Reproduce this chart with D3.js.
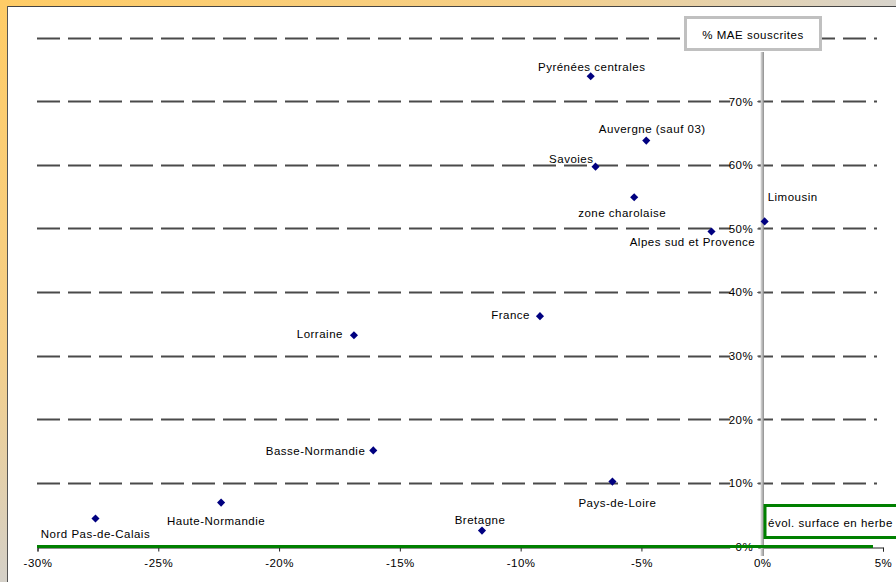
<!DOCTYPE html>
<html>
<head>
<meta charset="utf-8">
<script src="https://cdn.jsdelivr.net/npm/d3@7"></script>
<style>
  html, body { margin: 0; padding: 0; background: #fff; }
  svg { display: block; }
  text { font-family: "Liberation Sans", Arial, sans-serif; font-size: 11.5px; fill: #000; letter-spacing: 0.5px; }
</style>
</head>
<body>
<div id="chart"></div>
<script>
// data
const regions = [
  'Pyrénées centrales', 'Auvergne (sauf 03)', 'Savoies', 'zone charolaise',
  'Alpes sud et Provence', 'Limousin', 'France', 'Lorraine', 'Basse-Normandie',
  'Pays-de-Loire', 'Haute-Normandie', 'Nord Pas-de-Calais', 'Bretagne'
];
const evolHerbe = [-7.1, -4.8, -6.9, -5.3, -2.1, 0.1, -9.2, -16.9, -16.1, -6.2, -22.4, -27.6, -11.6];
const maeSouscrites = [73.9, 63.8, 59.7, 54.9, 49.5, 51.1, 36.2, 33.2, 15.1, 10.2, 6.9, 4.4, 2.5];
const xTicks = [-30, -25, -20, -15, -10, -5, 0, 5];
const yTicks = [0, 10, 20, 30, 40, 50, 60, 70, 80];

const width = 896;
const height = 582;

// label placement around each point (anchor, dx, dy)
const labelPos = {
  'Pyrénées centrales': ['middle', 1, -9],
  'Auvergne (sauf 03)': ['middle', 6, -12],
  'Savoies': ['end', -2, -8],
  'zone charolaise': ['middle', -12, 16],
  'Alpes sud et Provence': ['middle', -19, 10],
  'Limousin': ['start', 3, -24],
  'France': ['end', -10, -1],
  'Lorraine': ['end', -11, -1],
  'Basse-Normandie': ['end', -8, 1],
  'Pays-de-Loire': ['middle', 5, 21],
  'Haute-Normandie': ['middle', -5, 18],
  'Nord Pas-de-Calais': ['middle', 0, 15],
  'Bretagne': ['middle', -2, -11]
};

const data = regions.map((name, i) => ({ name, x: evolHerbe[i], y: maeSouscrites[i] }));

const svg = d3.select('#chart').append('svg').attr('width', width).attr('height', height);

// window frame
const defs = svg.append('defs');
const gTop = defs.append('linearGradient').attr('id', 'gTop');
gTop.append('stop').attr('offset', '0%').attr('stop-color', '#ffcc66');
gTop.append('stop').attr('offset', '60%').attr('stop-color', '#f5cf88');
gTop.append('stop').attr('offset', '100%').attr('stop-color', '#d8d4cc');
const gLeft = defs.append('linearGradient').attr('id', 'gLeft')
  .attr('x1', 0).attr('y1', 0).attr('x2', 0).attr('y2', 1);
gLeft.append('stop').attr('offset', '0%').attr('stop-color', '#ffcc66');
gLeft.append('stop').attr('offset', '60%').attr('stop-color', '#f5cf88');
gLeft.append('stop').attr('offset', '100%').attr('stop-color', '#d4d0c8');

svg.append('rect').attr('x', 0).attr('y', 0).attr('width', width).attr('height', 6).attr('fill', 'url(#gTop)');
svg.append('rect').attr('x', 0).attr('y', 0).attr('width', 7).attr('height', height).attr('fill', 'url(#gLeft)');
svg.append('line').attr('x1', 7).attr('x2', width).attr('y1', 6.5).attr('y2', 6.5).attr('stroke', '#444');
svg.append('line').attr('x1', 7.5).attr('x2', 7.5).attr('y1', 6).attr('y2', height).attr('stroke', '#555');

// scales
const xScale = d3.scaleLinear().domain([-30, 5]).range([37.5, 883]);
const yScale = d3.scaleLinear().domain([0, 80]).range([546.5, 37.5]);

// dashed gridlines
svg.append('g')
  .selectAll('line')
  .data(yTicks.filter((d) => d > 0))
  .join('line')
  .attr('x1', 37)
  .attr('x2', 877)
  .attr('y1', (d) => Math.round(yScale(d)) + 0.5)
  .attr('y2', (d) => Math.round(yScale(d)) + 0.5)
  .attr('stroke', '#4a4a4a')
  .attr('stroke-width', 2)
  .attr('stroke-dasharray', '23 8');

// x axis
const xAxis = d3.axisBottom(xScale).tickValues(xTicks).tickSize(4).tickFormat((d) => d + '%');
const xAxisGroup = svg.append('g')
  .attr('transform', `translate(0, ${yScale(0) + 1})`)
  .call(xAxis);
xAxisGroup.select('.domain').attr('stroke', '#222');
xAxisGroup.selectAll('.tick line').attr('stroke', '#222');
xAxisGroup.selectAll('.tick text')
  .attr('y', 11)
  .style('font-family', '"Liberation Sans", Arial, sans-serif')
  .style('font-size', '11.5px')
  .attr('fill', '#000');

// y axis tick labels with white background
const yLab = svg.append('g')
  .selectAll('g')
  .data(yTicks.filter((d) => d < 80))
  .join('g')
  .attr('transform', (d) => `translate(${xScale(0)}, ${yScale(d)})`);
yLab.append('rect').attr('x', -32).attr('y', -6).attr('width', 28).attr('height', 12).attr('fill', '#fff');
yLab.append('line').attr('x1', -5).attr('x2', -1).attr('y1', 0.5).attr('y2', 0.5).attr('stroke', '#555');
yLab.append('text')
  .attr('x', -9)
  .attr('dy', '0.38em')
  .attr('text-anchor', 'end')
  .text((d) => d + '%');

// vertical axis line
svg.append('line')
  .attr('x1', xScale(0)).attr('x2', xScale(0))
  .attr('y1', 52).attr('y2', 556)
  .attr('stroke', '#c8c8c8').attr('stroke-width', 3);
svg.append('line')
  .attr('x1', xScale(0) + 1).attr('x2', xScale(0) + 1)
  .attr('y1', 52).attr('y2', 556)
  .attr('stroke', '#808080').attr('stroke-width', 1);

// green x line
svg.append('line')
  .attr('x1', 37).attr('x2', 873)
  .attr('y1', yScale(0)).attr('y2', yScale(0))
  .attr('stroke', '#008000').attr('stroke-width', 3);

// y title box
svg.append('rect')
  .attr('x', 685.5).attr('y', 17.5).attr('width', 135).attr('height', 32)
  .attr('fill', '#fff').attr('stroke', '#c0c0c0').attr('stroke-width', 3);
svg.append('text')
  .attr('x', 753).attr('y', 35).attr('dy', '0.35em')
  .attr('text-anchor', 'middle')
  .text('% MAE souscrites');

// x title box
svg.append('rect')
  .attr('x', 765).attr('y', 505.5).attr('width', 150).attr('height', 32)
  .attr('fill', '#fff').attr('stroke', '#008000').attr('stroke-width', 3);
svg.append('text')
  .attr('x', 768).attr('y', 523).attr('dy', '0.35em')
  .text('évol. surface en herbe');

// points
svg.append('g')
  .selectAll('path')
  .data(data)
  .join('path')
  .attr('transform', (d) => `translate(${xScale(d.x)}, ${yScale(d.y)})`)
  .attr('d', d3.symbol(d3.symbolDiamond2, 42))
  .attr('fill', '#000080');

// point labels
svg.append('g')
  .selectAll('text')
  .data(data)
  .join('text')
  .attr('x', (d) => xScale(d.x) + labelPos[d.name][1])
  .attr('y', (d) => yScale(d.y) + labelPos[d.name][2])
  .attr('dy', '0.35em')
  .attr('text-anchor', (d) => labelPos[d.name][0])
  .text((d) => d.name);
</script>
</body>
</html>
